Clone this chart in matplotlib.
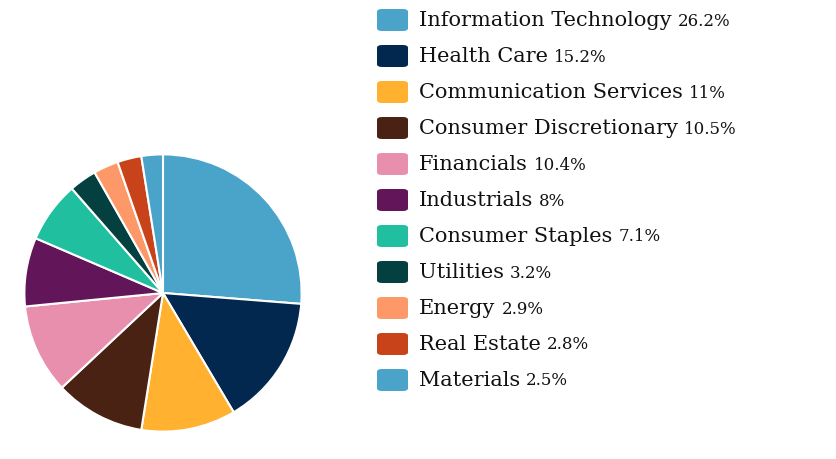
import matplotlib
matplotlib.use("Agg")
import matplotlib.pyplot as plt
from matplotlib.patches import FancyBboxPatch

sectors = ["Information Technology", "Health Care", "Communication Services",
           "Consumer Discretionary", "Financials", "Industrials", "Consumer Staples",
           "Utilities", "Energy", "Real Estate", "Materials"]
weights = [26.2, 15.2, 11, 10.5, 10.4, 8, 7.1, 3.2, 2.9, 2.8, 2.5]
labels = ["26.2%", "15.2%", "11%", "10.5%", "10.4%", "8%", "7.1%", "3.2%", "2.9%", "2.8%", "2.5%"]
colors = ["#4aa3c8", "#02284f", "#ffb12f", "#4a2213", "#e98fae", "#621558",
          "#1fbfa0", "#04403f", "#fd9869", "#c9431a", "#4aa3c8"]

W, H = 837, 460
fig = plt.figure(figsize=(W/100, H/100), dpi=100)
ax = fig.add_axes([(163-140)/W, 1-(294+140)/H, 280/W, 280/H])
ax.pie(weights, colors=colors, startangle=90, counterclock=False,
       wedgeprops=dict(edgecolor="white", linewidth=1.5))
ax.set_aspect("equal")
ax.set_xlim(-1.01, 1.01); ax.set_ylim(-1.01, 1.01)

r = fig.canvas.get_renderer()
for i, (s, l, c) in enumerate(zip(sectors, labels, colors)):
    yc = 21 + i*36
    fig.patches.append(FancyBboxPatch((377/W, 1-(yc+11)/H), 31/W, 22/H,
                                      boxstyle="round,pad=0,rounding_size=0.006",
                                      transform=fig.transFigure, facecolor=c, edgecolor="none"))
    t = fig.text(419/W, 1-yc/H, s, fontsize=15, family="DejaVu Serif", va="center", color="#111111")
    bb = t.get_window_extent(r)
    fig.text(bb.x1/W + 6/W, 1-yc/H, l, fontsize=12, family="DejaVu Serif", va="center", color="#111111")

fig.savefig("out.png", dpi=100)
